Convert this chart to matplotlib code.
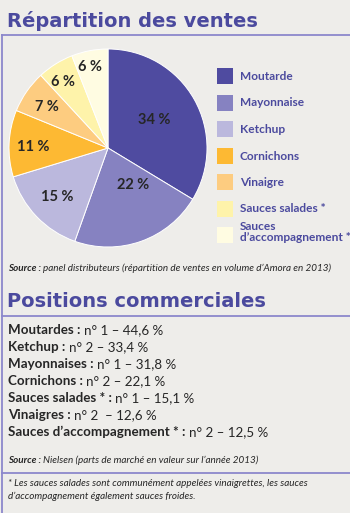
#!/usr/bin/env python3
"""Répartition des ventes / Positions commerciales (Amora 2013)"""

import matplotlib
matplotlib.use('Agg')
import matplotlib.pyplot as plt
from matplotlib.patches import Rectangle
import numpy as np

# ---- data ----
categories = ['Moutarde', 'Mayonnaise', 'Ketchup', 'Cornichons', 'Vinaigre',
              'Sauces salades *', 'Sauces\nd\u2019accompagnement *']
shares = [34, 22, 15, 11, 7, 6, 6]

products = ['Moutardes', 'Ketchup', 'Mayonnaises', 'Cornichons',
            'Sauces salades *', 'Vinaigres', 'Sauces d\u2019accompagnement *']
ranks = [1, 2, 1, 2, 1, 2, 2]
market_shares = ['44,6', '33,4', '31,8', '22,1', '15,1', '12,6', '12,5']

title1 = 'Répartition des ventes'
title2 = 'Positions commerciales'
source1 = 'panel distributeurs (répartition de ventes en volume d\u2019Amora en 2013)'
source2 = 'Nielsen (parts de marché en valeur sur l\u2019année 2013)'
footnote = ('* Les sauces salades sont communément appelées vinaigrettes, les sauces\n'
            'd\u2019accompagnement également sauces froides.')

# ---- style ----
BG = '#EEEDEA'
PURPLE = '#4B4A9E'
LINE = '#8C88CC'
DARK = '#262626'
colors = ['#4F4BA0', '#8682C1', '#BBB8DD', '#FDB933', '#FDCC80', '#FEF3AA', '#FFFCE2']
label_r = [0.55, 0.45, 0.71, 0.76, 0.74, 0.81, 0.84]
label_dang = [2, 14, 0, 2, 1, 2, 2]
BODY = 'Lato'
TITLE = 'DejaVu Sans'

W, H = 350, 513
fig = plt.figure(figsize=(W / 100, H / 100), dpi=100, facecolor=BG)

# canvas axes in pixel coordinates
ax = fig.add_axes([0, 0, 1, 1])
ax.set_xlim(0, W)
ax.set_ylim(H, 0)
ax.axis('off')
ax.set_facecolor(BG)

# frame lines
for y in [35, 316, 473]:
    ax.plot([1, W], [y, y], color=LINE, lw=1.3, solid_capstyle='butt')
ax.plot([1.5, 1.5], [35, H], color=LINE, lw=1.3)

# titles
ax.text(7, 27, title1, fontsize=14.0, fontweight='bold', color=PURPLE,
        family=TITLE, va='baseline', ha='left')
ax.text(7, 307, title2, fontsize=14.0, fontweight='bold', color=PURPLE,
        family=TITLE, va='baseline', ha='left')

# ---- pie ----
cx, cy, r = 108, 148, 99
pax = fig.add_axes([(cx - r) / W, (H - cy - r) / H, 2 * r / W, 2 * r / H])
wedges, _ = pax.pie(shares, colors=colors, startangle=90, counterclock=False,
                    wedgeprops=dict(edgecolor='white', linewidth=0.7))
pax.set_xlim(-1, 1)
pax.set_ylim(-1, 1)
pax.set_aspect('equal')
for w, v, rr, da in zip(wedges, shares, label_r, label_dang):
    ang = np.deg2rad((w.theta1 + w.theta2) / 2 + da)
    pax.text(rr * np.cos(ang), rr * np.sin(ang), f'{v} %', ha='center', va='center',
             fontsize=10.5, fontweight='bold', color=DARK, family=BODY)

# ---- legend ----
leg_top = 68
for i, (cat, c) in enumerate(zip(categories, colors)):
    y0 = leg_top + i * 26.5
    ax.add_patch(Rectangle((217, y0), 16, 16, facecolor=c, edgecolor='none'))
    if '\n' in cat:
        ax.text(240, y0 - 6, cat, fontsize=8.6, fontweight='bold', color=PURPLE,
                family=BODY, va='top', ha='left', linespacing=1.0)
    else:
        ax.text(240, y0 + 8.5, cat, fontsize=8.6, fontweight='bold', color=PURPLE,
                family=BODY, va='center', ha='left')


def two_part(x, y, bold, rest, size, style='normal', color=DARK):
    t = ax.text(x, y, bold, fontsize=size, fontweight='bold', fontstyle=style,
                color=color, family=BODY, va='bottom', ha='left')
    ax.annotate(rest, xy=(1, 0), xycoords=t, fontsize=size, fontstyle=style,
                color=color, family=BODY, va='bottom', ha='left')


# sources
two_part(8, 273, 'Source : ', source1, 7.1, style='italic')
two_part(8, 465, 'Source : ', source2, 7.1, style='italic')

# ---- positions list ----
row_y0, row_dy = 336, 17
for i, (p, rk, ms) in enumerate(zip(products, ranks, market_shares)):
    gap = '  ' if p == 'Vinaigres' else ' '
    two_part(8, row_y0 + i * row_dy, f'{p} : ', f'n° {rk}{gap}\u2013 {ms} %', 9.6)

# footnote
ax.text(8, 479, footnote, fontsize=7.1, fontstyle='italic', color=DARK,
        family=BODY, va='top', ha='left', linespacing=1.45)

fig.savefig('out.png', dpi=100, facecolor=BG)
